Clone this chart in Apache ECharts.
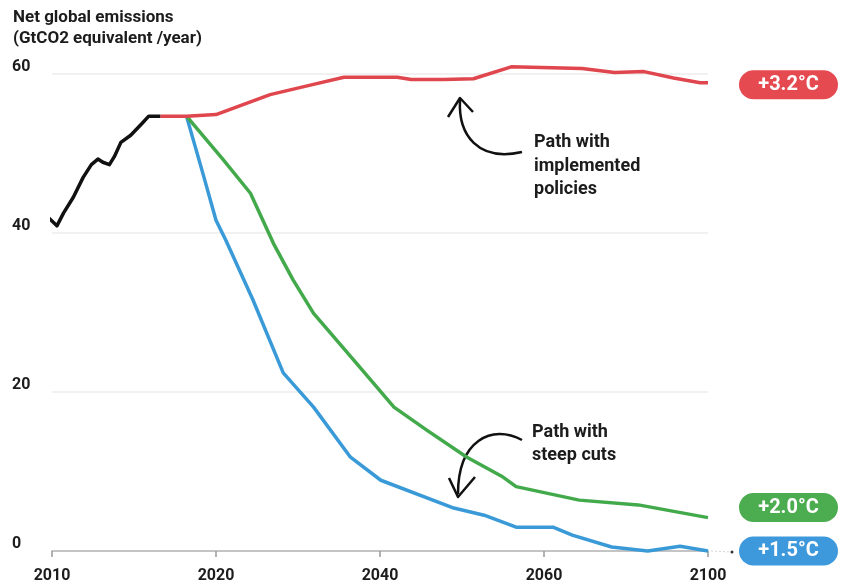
<!DOCTYPE html>
<html>
<head>
<meta charset="utf-8">
<script src="https://cdn.jsdelivr.net/npm/echarts@6/dist/echarts.min.js"></script>
<style>html,body{margin:0;padding:0;background:#fff}#c{width:842px;height:585px}</style>
</head>
<body>
<div id="c"></div>
<script>
// Tick labels on the (non-uniform) time axis, equally spaced in the picture
var tickYears = [2010, 2020, 2040, 2060, 2100];
var yTicks = [0, 20, 40, 60];

// Historical emissions (black)
var histYears  = [2009.75, 2010.3, 2010.7, 2011.3, 2011.9, 2012.4, 2012.8, 2013.1, 2013.5, 2013.8, 2014.2, 2014.8, 2015.5, 2015.9, 2016.6];
var histValues = [42.0, 40.9, 42.5, 44.5, 47.0, 48.6, 49.3, 48.9, 48.6, 49.6, 51.4, 52.3, 53.8, 54.7, 54.7];

// Path with implemented policies (+3.2°C)
var polYears  = [2016.6, 2018.2, 2020, 2026.6, 2031.5, 2035.6, 2042.1, 2043.8, 2047.8, 2051.4, 2056, 2069.3, 2077.2, 2084.4, 2091.6, 2098.1, 2100];
var polValues = [54.7, 54.7, 54.9, 57.4, 58.6, 59.6, 59.6, 59.3, 59.3, 59.4, 60.9, 60.7, 60.2, 60.3, 59.5, 58.9, 58.9];

// +2.0°C path
var g2Years  = [2018.2, 2020.9, 2024.2, 2027.0, 2029.4, 2031.9, 2036.8, 2041.7, 2045.7, 2050.6, 2055.0, 2056.6, 2068.6, 2083.0, 2100];
var g2Values = [54.7, 49.2, 45.0, 38.7, 34.1, 29.9, 24.0, 18.1, 15.2, 11.8, 9.3, 8.1, 6.4, 5.8, 4.2];

// +1.5°C path
var b15Years  = [2018.2, 2019.2, 2020.0, 2021.2, 2024.5, 2028.2, 2031.9, 2036.4, 2040.1, 2049.0, 2052.7, 2056.6, 2062.2, 2066.9, 2076.5, 2085.3, 2093.2, 2100];
var b15Values = [54.7, 47.5, 41.6, 39.1, 31.6, 22.4, 18.1, 11.8, 8.9, 5.4, 4.5, 3.0, 3.0, 2.0, 0.5, 0.0, 0.6, 0.0];

var endLabels = ['+3.2°C', '+2.0°C', '+1.5°C'];

function yearToPos(y) {
  var i = 0;
  while (i < tickYears.length - 2 && y > tickYears[i + 1]) i++;
  return i + (y - tickYears[i]) / (tickYears[i + 1] - tickYears[i]);
}
function pairs(xs, ys) {
  return xs.map(function (x, k) { return [yearToPos(x), ys[k]]; });
}

var FONT = 'Roboto';
var TXT = '#1c1c1c';

function pill(text, color, offY) {
  return {
    show: true,
    formatter: '{p|' + text + '}',
    distance: 31,
    offset: [0, offY],
    backgroundColor: color,
    borderRadius: 15,
    padding: [0, 0],
    rich: {
      p: {
        color: '#fff', fontFamily: FONT, fontWeight: 'bold', fontSize: 20,
        width: 99, height: 29, lineHeight: 29, align: 'center'
      }
    }
  };
}

var chart = echarts.init(document.getElementById('c'), null, {renderer: 'canvas'});
chart.setOption({
  animation: false,
  backgroundColor: '#fff',
  grid: {left: 52, right: 134, top: 74, bottom: 34},
  xAxis: {
    type: 'value', min: 0, max: tickYears.length - 1, interval: 1,
    splitLine: {show: false},
    axisLine: {lineStyle: {color: '#b5b5b5', width: 1.5}},
    axisTick: {show: true, length: 6, lineStyle: {color: '#999', width: 1.5}},
    axisLabel: {
      margin: 17, color: TXT, fontFamily: FONT, fontWeight: 'bold', fontSize: 16,
      formatter: function (v) { return String(tickYears[Math.round(v)]); }
    }
  },
  yAxis: {
    type: 'value', min: yTicks[0], max: yTicks[yTicks.length - 1], interval: 20,
    axisLine: {show: false}, axisTick: {show: false},
    splitLine: {lineStyle: {color: '#ececec', width: 1.5}},
    axisLabel: {
      align: 'left', margin: 40, verticalAlign: 'bottom', lineHeight: 14,
      color: TXT, fontFamily: FONT, fontWeight: 'bold', fontSize: 16
    }
  },
  series: [
    {type: 'line', clip: false, data: pairs(histYears, histValues), symbol: 'none',
      lineStyle: {color: '#111', width: 3.5, join: 'round'}, z: 5},
    {type: 'line', clip: false, data: pairs(polYears, polValues), symbol: 'none',
      lineStyle: {color: '#e0464d', width: 3.5, join: 'round'}, z: 4,
      endLabel: pill(endLabels[0], '#e54a50', 2)},
    {type: 'line', clip: false, data: pairs(g2Years, g2Values), symbol: 'none',
      lineStyle: {color: '#43aa4c', width: 3.5, join: 'round'}, z: 3,
      endLabel: pill(endLabels[1], '#4cad50', -10)},
    {type: 'line', clip: false, data: pairs(b15Years, b15Values), symbol: 'none',
      lineStyle: {color: '#3a9ad8', width: 3.5, join: 'round'}, z: 2,
      endLabel: pill(endLabels[2], '#3d99dc', 0)}
  ],
  graphic: [
    {type: 'text', left: 13, top: 7, style: {
      text: 'Net global emissions\n(GtCO2 equivalent /year)', fill: TXT,
      font: 'bold 17px Roboto', lineHeight: 21}},
    {type: 'text', left: 534, top: 131, style: {
      text: 'Path with\nimplemented\npolicies', fill: TXT,
      font: 'bold 18px Roboto', lineHeight: 23.5}},
    {type: 'text', left: 532, top: 421, style: {
      text: 'Path with\nsteep cuts', fill: TXT,
      font: 'bold 18px Roboto', lineHeight: 23}},
    {type: 'bezierCurve', shape: {x1: 522, y1: 152, cpx1: 478, cpy1: 162, cpx2: 458, cpy2: 135, x2: 460, y2: 100},
      style: {stroke: '#111', lineWidth: 2.5, fill: null}},
    {type: 'polyline', shape: {points: [[448, 117], [460, 98], [473, 112]]},
      style: {stroke: '#111', lineWidth: 2.5, fill: null, lineJoin: 'round'}},
    {type: 'bezierCurve', shape: {x1: 522, y1: 440, cpx1: 492, cpy1: 424, cpx2: 458, cpy2: 440, x2: 458, y2: 494},
      style: {stroke: '#111', lineWidth: 2.5, fill: null}},
    {type: 'polyline', shape: {points: [[449, 478], [458, 497], [475, 477]]},
      style: {stroke: '#111', lineWidth: 2.5, fill: null, lineJoin: 'round'}},
    {type: 'line', shape: {x1: 711, y1: 551, x2: 731, y2: 552},
      style: {stroke: '#d5d5d5', lineWidth: 1, lineDash: [2, 2]}},
    {type: 'circle', shape: {cx: 732, cy: 552, r: 1.5}, style: {fill: '#333'}}
  ]
});
</script>
</body>
</html>
